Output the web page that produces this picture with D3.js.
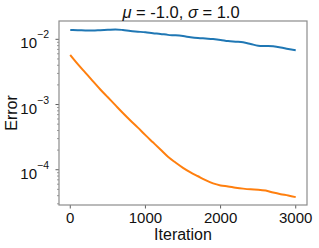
<!DOCTYPE html>
<html>
<head>
<meta charset="utf-8">
<script src="https://cdn.jsdelivr.net/npm/d3@7"></script>
<style>
body { margin: 0; background: #fff; }
text { font-family: "Liberation Sans", Arial, sans-serif; fill: #111; }
</style>
</head>
<body>
<svg id="viz"></svg>
<script>
/* data */
var iterations = [0, 100, 200, 300, 400, 500, 600, 700, 800, 900, 1000,
	1100, 1200, 1300, 1400, 1500, 1600, 1700, 1800, 1900, 2000,
	2100, 2200, 2300, 2400, 2500, 2600, 2700, 2800, 2900, 3000];

var blueErr = [0.0139, 0.0138, 0.0137, 0.0136, 0.0138, 0.0140, 0.0142, 0.0139, 0.0134, 0.0131, 0.0128,
	0.0124, 0.0121, 0.0117, 0.0115, 0.0112, 0.0108, 0.0105, 0.0103, 0.0101, 0.0098,
	0.0094, 0.0092, 0.0090, 0.0085, 0.0080, 0.0079, 0.0078, 0.0075, 0.0071, 0.0068];

var orangeErr = [5.75e-3, 4.17e-3, 3.09e-3, 2.29e-3, 1.70e-3, 1.29e-3, 9.77e-4, 7.41e-4, 5.69e-4, 4.42e-4, 3.39e-4,
	2.63e-4, 2.04e-4, 1.58e-4, 1.29e-4, 1.07e-4, 9.12e-5, 7.94e-5, 6.92e-5, 6.17e-5, 5.75e-5,
	5.55e-5, 5.31e-5, 5.13e-5, 5.01e-5, 4.95e-5, 4.79e-5, 4.47e-5, 4.22e-5, 4.03e-5, 3.80e-5];

var xTicks = [0, 1000, 2000, 3000];
var yExps = [-2, -3, -4];

/* create svg */
var margin = { top: 21, right: 12, bottom: 43, left: 59 },
	width = 319 - margin.left - margin.right,
	height = 248 - margin.top - margin.bottom;

var svg = d3.select('#viz')
		.attr('width', 319)
		.attr('height', 248);
var g = svg.append('g')
		.attr('transform', 'translate(' + margin.left + ',' + margin.top + ')');

var x = d3.scaleLinear()
	.domain([-150, 3150])
	.range([0, width]);

var y = d3.scaleLog()
	.domain([Math.pow(10, -4.541), Math.pow(10, -1.719)])
	.range([height, 0]);

// minor ticks on the log axis
var minor = [];
[-5, -4, -3, -2].forEach(function(e){
	for (var k = 2; k <= 9; k++) {
		var v = k * Math.pow(10, e);
		if (v > y.domain()[0] && v < y.domain()[1]) minor.push(v);
	}
});

g.selectAll('.minor')
	.data(minor)
	.enter().append('line')
	.attr('x1', -2).attr('x2', 0)
	.attr('y1', function(d){ return y(d); })
	.attr('y2', function(d){ return y(d); })
	.attr('stroke', '#555')
	.attr('stroke-width', 0.6);

g.selectAll('.major')
	.data(yExps)
	.enter().append('line')
	.attr('x1', -3.5).attr('x2', 0)
	.attr('y1', function(d){ return y(Math.pow(10, d)); })
	.attr('y2', function(d){ return y(Math.pow(10, d)); })
	.attr('stroke', '#333')
	.attr('stroke-width', 0.8);

var yLab = g.selectAll('.ylab')
	.data(yExps)
	.enter().append('text')
	.attr('x', -10)
	.attr('y', function(d){ return y(Math.pow(10, d)) + 9; })
	.attr('text-anchor', 'end')
	.style('font-size', '15px');
yLab.append('tspan').text('10');
yLab.append('tspan')
	.attr('dy', -10)
	.style('font-size', '10.5px')
	.text(function(d){ return '\u2212' + (-d); });

// x ticks
g.selectAll('.xtick')
	.data(xTicks)
	.enter().append('line')
	.attr('x1', function(d){ return x(d); })
	.attr('x2', function(d){ return x(d); })
	.attr('y1', height).attr('y2', height + 3.5)
	.attr('stroke', '#333')
	.attr('stroke-width', 0.8);

g.selectAll('.xlab')
	.data(xTicks)
	.enter().append('text')
	.attr('x', function(d){ return x(d); })
	.attr('y', height + 18)
	.attr('text-anchor', 'middle')
	.style('font-size', '15px')
	.text(function(d){ return d; });

var line = d3.line()
	.x(function(d, i){ return x(iterations[i]); })
	.y(function(d){ return y(d); })
	.curve(d3.curveMonotoneX);

g.append('path')
	.attr('d', line(blueErr))
	.attr('fill', 'none')
	.attr('stroke', '#1f77b4')
	.attr('stroke-width', 2);

g.append('path')
	.attr('d', line(orangeErr))
	.attr('fill', 'none')
	.attr('stroke', '#ff7f0e')
	.attr('stroke-width', 2);

// frame
g.append('rect')
	.attr('width', width)
	.attr('height', height)
	.attr('fill', 'none')
	.attr('stroke', '#8c8c8c')
	.attr('stroke-width', 1.2);

// labels
var title = svg.append('text')
	.attr('x', margin.left + width / 2 - 2)
	.attr('y', 18)
	.attr('text-anchor', 'middle')
	.style('font-size', '16.5px');
title.append('tspan').style('font-style', 'italic').text('\u03bc');
title.append('tspan').text(' = -1.0, ');
title.append('tspan').style('font-style', 'italic').text('\u03c3');
title.append('tspan').text(' = 1.0');

svg.append('text')
	.attr('x', margin.left + width / 2)
	.attr('y', 240)
	.attr('text-anchor', 'middle')
	.style('font-size', '16px')
	.text('Iteration');

svg.append('text')
	.attr('transform', 'translate(17,' + (margin.top + height / 2) + ') rotate(-90)')
	.attr('text-anchor', 'middle')
	.style('font-size', '16px')
	.text('Error');
</script>
</body>
</html>
